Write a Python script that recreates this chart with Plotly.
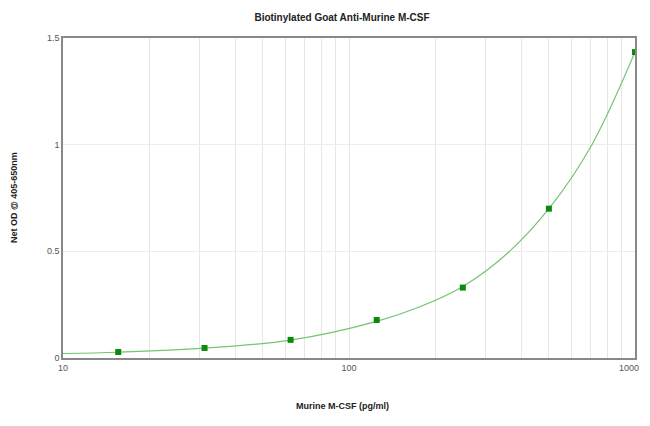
import math
import plotly.graph_objects as go

# Data
conc = [15.6, 31.25, 62.5, 125, 250, 500, 1000]
od = [0.028, 0.047, 0.085, 0.178, 0.33, 0.70, 1.434]

# Fitted curve
curve_x = [10, 15.6, 31.25, 62.5, 125, 177, 250, 354, 500, 707, 1000]
curve_y = [0.021, 0.027, 0.046, 0.084, 0.172, 0.24, 0.335, 0.485, 0.70, 1.0, 1.434]

x_tick_vals = [10, 20, 30, 40, 50, 60, 70, 80, 90, 100,
               200, 300, 400, 500, 600, 700, 800, 900, 1000]
x_tick_text = ["10"] + [""] * 8 + ["100"] + [""] * 8 + ["1000"]
y_tick_vals = [0, 0.5, 1, 1.5]
y_tick_text = ["0", "0.5", "1", "1.5"]

title = "Biotinylated Goat Anti-Murine M-CSF"
x_title = "Murine M-CSF (pg/ml)"
y_title = "Net OD @ 405-650nm"

# page body has an 8px default margin; size the figure to fit the window
W, H = 642, 410

# the last x tick label is drawn as an annotation so it stays inside the page
last_label = x_tick_text[-1]
axis_text = x_tick_text[:-1] + [""]

fig = go.Figure()
fig.add_trace(go.Scatter(
    x=curve_x, y=curve_y, mode="lines",
    line=dict(color="#74c474", width=1.2, shape="spline", smoothing=1.0),
    hoverinfo="skip", showlegend=False))
fig.add_trace(go.Scatter(
    x=conc, y=od, mode="markers",
    marker=dict(symbol="square", size=6, color="#0a8a0a"),
    showlegend=False))

fig.update_layout(
    width=W, height=H,
    margin=dict(l=55, r=15, t=30, b=60, autoexpand=False),
    paper_bgcolor="white", plot_bgcolor="white",
    font=dict(family="Liberation Sans, Arial, sans-serif", color="#444"),
    title=dict(text="<b>" + title + "</b>", x=(342 - 8) / W, xanchor="center",
               xref="container", y=1 - (17 - 8) / H, yanchor="middle", yref="container",
               font=dict(size=10, color="#222")),
    annotations=[
        dict(text="<b>" + x_title + "</b>", xref="paper", yref="paper",
             x=(342 - 63) / 572, y=0, yshift=-48, showarrow=False,
             xanchor="center", yanchor="middle",
             font=dict(size=9, color="#222")),
        dict(text="<b>" + y_title + "</b>", xref="paper", yref="paper",
             x=0, y=0.5, xshift=-49, showarrow=False, textangle=-90,
             xanchor="center", yanchor="middle",
             font=dict(size=9, color="#222")),
        dict(text=last_label, xref="x", yref="paper",
             x=math.log10(x_tick_vals[-1]), y=0, xshift=6, yshift=-10,
             showarrow=False, xanchor="right", yanchor="middle",
             font=dict(size=9, color="#555")),
    ],
)
fig.update_xaxes(
    type="log", range=[1, 3], automargin=False,
    tickmode="array", tickvals=x_tick_vals, ticktext=axis_text,
    showgrid=True, gridcolor="#e6e6e6", gridwidth=1,
    showline=True, linecolor="#888", linewidth=1.5, mirror=True,
    ticks="", tickfont=dict(size=9, color="#555"),
    ticklabeloverflow="allow",
    zeroline=False,
)
fig.update_yaxes(
    range=[0, 1.5], automargin=False,
    tickmode="array", tickvals=y_tick_vals, ticktext=y_tick_text,
    showgrid=True, gridcolor="#ececec", gridwidth=1,
    showline=True, linecolor="#888", linewidth=1.5, mirror=True,
    ticks="", tickfont=dict(size=9, color="#555"),
    ticklabeloverflow="allow",
    zeroline=False,
)

fig.write_html("out.html")
